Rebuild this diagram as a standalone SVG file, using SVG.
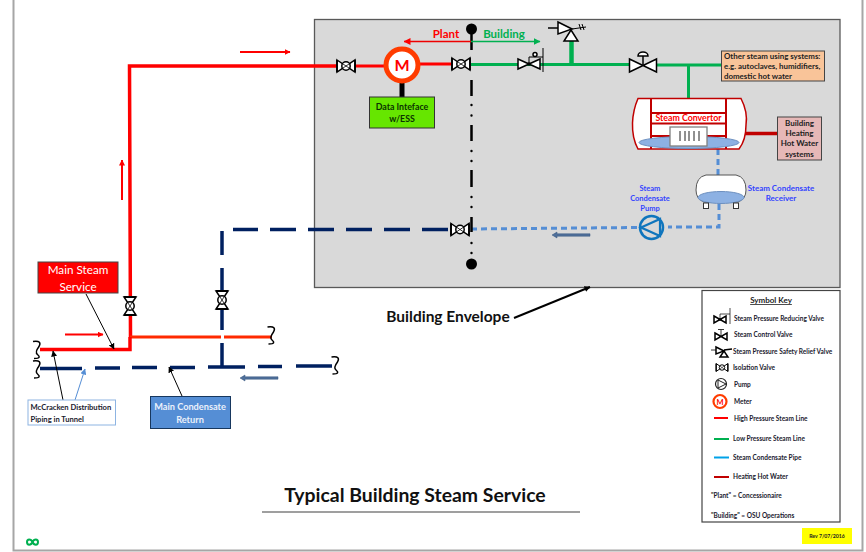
<svg xmlns="http://www.w3.org/2000/svg" xmlns:xlink="http://www.w3.org/1999/xlink" width="866" height="552" viewBox="0 0 866 552">
<style>
text{font-family:"Lato","Open Sans","Liberation Sans",sans-serif;font-weight:700;text-anchor:middle}
.hp{stroke:#f00;stroke-width:3.5;fill:none}
.hp2{stroke:#f00;stroke-width:2.800;fill:none}
.lp{stroke:#00b050;stroke-width:3;fill:none}
.navy{stroke:#002060;stroke-width:3.5;fill:none}
.cond{stroke:#558ed5;stroke-width:3;fill:none;stroke-dasharray:6 4}
.thin{stroke:#000;stroke-width:1;fill:none}
.z{stroke:#000;stroke-width:1.500;fill:none}
.v{stroke:#000;stroke-width:1.500;fill:#fff}
.key{font-size:6.500px;text-anchor:start;fill:#1a1a2e}
.blue{font-size:7.500px;fill:#3344ff}
.st{text-anchor:start}
</style>
<defs>
<marker id="ar" markerWidth="6" markerHeight="6" refX="5.500" refY="3" orient="auto" markerUnits="userSpaceOnUse" viewBox="0 0 6 6"><path d="M0 0L6 3L0 6z" fill="#f00"/></marker>
<marker id="ag" markerWidth="7" markerHeight="7" refX="6.500" refY="3.500" orient="auto" markerUnits="userSpaceOnUse" viewBox="0 0 7 7"><path d="M0 0L7 3.500L0 7z" fill="#00b050"/></marker>
<marker id="ar2" markerWidth="7" markerHeight="7" refX="6.500" refY="3.500" orient="auto" markerUnits="userSpaceOnUse" viewBox="0 0 7 7"><path d="M0 0L7 3.500L0 7z" fill="#f00"/></marker>
<marker id="ak" markerWidth="6" markerHeight="6" refX="5.500" refY="3" orient="auto" markerUnits="userSpaceOnUse" viewBox="0 0 6 6"><path d="M0 0L6 3L0 6z" fill="#000"/></marker>
<marker id="ab" markerWidth="6" markerHeight="6" refX="5.500" refY="3" orient="auto" markerUnits="userSpaceOnUse" viewBox="0 0 6 6"><path d="M0 0L6 3L0 6z" fill="#558ed5"/></marker>
<g id="iso"><path class="v" d="M-9 -6L9 6V-6L-9 6z"/><path d="M-9 -6V6M9 -6V6" stroke="#000" stroke-width="1.800" fill="none"/><circle r="4.200" class="v" stroke-width="1.200"/><path d="M-3 -2L3 2M3 -2L-3 2" stroke="#000" stroke-width=".8"/></g>
<g id="zig"><path class="z" d="M-4 -8.500C3 -9.500 4 -7 2 -3.500C-1 .5 -1.500 3 .5 4.500C3 6.500 3.500 8.500 -3 8.500"/></g>
<g id="tail"><path fill="#4f6f9a" stroke="#37567f" stroke-width=".5" d="M0 -1.200H33V1.200H0V3L-5 0L0 -3z"/></g>
</defs>

<path d="M13.500 0V550.500H862.500V0" fill="none" stroke="#a6a6a6" stroke-width="2"/>

<g id="building-envelope-box"><rect x="314.500" y="19.500" width="525.500" height="268" fill="#d9d9d9" stroke="#595959" stroke-width="1.300"/></g>

<g id="connectors">
<path class="hp" d="M339 66H129.500L130.500 337"/>
<path d="M130 337H272" stroke="#ff2a00" stroke-width="3" fill="none"/>
<path class="hp" d="M40 349.500H130V337"/>
<path class="hp2" d="M352 66H385M419 64H470"/>
<path d="M221 336.500H224" stroke="#fff" stroke-width="5"/>
<path class="lp" d="M471 64.500H636M648 65H721"/>
<path d="M571.500 40V64" stroke="#00b050" stroke-width="4.500"/>
<path class="lp" d="M688.500 65V99"/>
<path class="cond" d="M718 149V175M719 204V227H668"/>
<path class="cond" d="M637 227.500L472 229"/>
<path class="navy" stroke-dasharray="26 12" d="M448 229.500H233"/>
<path class="navy" d="M222 231V255M222 268V330M222 343V367"/>
<path class="navy" d="M40 368.500H82M95 368H120M132 367.500H157M170 367.500H195M208 367H245M258 366.500H282M296 366H332"/>
<path d="M726 133.500H779" stroke="#c00000" stroke-width="3.500"/>
<path stroke="#000" stroke-width="2.500" fill="none" d="M471.500 30V50M471.500 80V96M471.500 125V141M471.500 170V187M471.500 217V232"/>
<path stroke="#000" stroke-width="2.400" stroke-linecap="round" fill="none" d="M471.500 105v.1M471.500 115.500v.1M471.500 151v.1M471.500 161v.1M471.500 197v.1M471.500 207v.1M471.500 243v.1M471.500 253v.1"/>
<path d="M240 52H290" stroke="#f00" stroke-width="2" marker-end="url(#ar)"/>
<path d="M122 200V160" stroke="#f00" stroke-width="2" marker-end="url(#ar)"/>
<path d="M65 334.500H103" stroke="#f00" stroke-width="2" marker-end="url(#ar)"/>
<path d="M471 41.500H404" stroke="#e00" stroke-width="1.500" marker-end="url(#ar2)"/>
<path d="M471 41.500H540" stroke="#00b050" stroke-width="1.500" marker-end="url(#ag)"/>
<use href="#tail" xlink:href="#tail" x="245" y="378"/>
<use href="#tail" xlink:href="#tail" x="557" y="235"/>
<path class="thin" d="M86 294L114 349" marker-end="url(#ak)"/>
<path class="thin" d="M63 400L53 351" marker-end="url(#ak)"/>
<path d="M75 400L85 369" stroke="#558ed5" fill="none" marker-end="url(#ab)"/>
<path class="thin" d="M182 396L169 367" marker-end="url(#ak)"/>
<path d="M514 318L590 287" stroke="#000" stroke-width="2" marker-end="url(#ak)"/>
<path d="M402 83V97" stroke="#000" stroke-width="5"/>
</g>

<g id="breaks">
<use href="#zig" xlink:href="#zig" x="37" y="350"/>
<use href="#zig" xlink:href="#zig" x="37" y="369.500"/>
<use href="#zig" xlink:href="#zig" x="271.500" y="335.500"/>
<use href="#zig" xlink:href="#zig" x="335.500" y="365.500"/>
</g>

<g id="boundary-end-top"><circle cx="471.500" cy="29" r="5.500" fill="#000"/></g>
<g id="boundary-end-bottom"><circle cx="471.500" cy="264" r="5.500" fill="#000"/></g>

<g id="valve-service"><use href="#iso" xlink:href="#iso" transform="translate(130 306) rotate(90)"/></g>
<g id="valve-return"><use href="#iso" xlink:href="#iso" transform="translate(222 300) rotate(90)"/></g>
<g id="valve-iso-top"><use href="#iso" xlink:href="#iso" x="346" y="66"/></g>
<g id="valve-iso-plant"><use href="#iso" xlink:href="#iso" x="461" y="64"/></g>
<g id="valve-iso-cond"><use href="#iso" xlink:href="#iso" x="460" y="229.500"/></g>

<g id="meter"><circle cx="402" cy="65" r="16" fill="#fff" stroke="#ff3c00" stroke-width="5"/><text x="402" y="71" font-size="16" fill="#f00">M</text></g>
<g id="data-interface"><rect x="369.500" y="97" width="65" height="31" fill="#66e600" stroke="#333"/><text x="402" y="110" font-size="8.800" fill="#0a3300">Data Inteface</text><text x="402" y="122" font-size="8.800" fill="#0a3300">w/ESS</text></g>

<g id="prv"><path class="v" d="M518 59L540 69V59L518 69z"/><circle cx="529" cy="64" r="1.800" fill="#000"/><path d="M529 64V57H543" stroke="#000" fill="none"/><circle cx="535" cy="54.500" r="2" class="v" stroke-width="1"/><path d="M543 48V72" stroke="#000"/></g>
<g id="relief"><path d="M548 28H560" stroke="#000" stroke-width="1.500"/><path class="v" d="M558 22L572 29L558 34z"/><path class="v" d="M571 30L564 41H578z"/><path d="M572 29L586 27M579 24L581 30M582 24L584 30" stroke="#000" fill="none"/></g>
<g id="control-valve"><path class="v" d="M629.500 59L656.500 72V59L629.500 72z"/><path d="M643 65V56" stroke="#000" stroke-width="1.500"/><path d="M638 56A5 4 0 0 1 648 56z" fill="#fff" stroke="#000" stroke-width="1.500"/></g>

<g id="other-systems"><rect x="721.500" y="51" width="103" height="30" fill="#f9c499" stroke="#444"/><g font-size="7.900" fill="#222"><text class="st" x="724" y="58.500">Other steam using systems:</text><text class="st" x="724" y="68.500">e.g. autoclaves, humidifiers,</text><text class="st" x="724" y="78.500">domestic hot water</text></g></g>

<g id="steam-convertor">
<path d="M638 98.500H741Q748 112 746 125Q746 140 739 149H638Q632 138 632.500 123Q633 110 638 98.500z" fill="#fff" stroke="#c00000" stroke-width="1.500"/>
<path d="M651 98V149M726 98V149M651 113H726M651 123.500H726M651 136H726" stroke="#c00000" stroke-width="2" fill="none"/>
<ellipse cx="689" cy="142.500" rx="50" ry="6" fill="#8db1e3" stroke="#6d90c0"/>
<rect x="670" y="127" width="37" height="19" fill="#fff" stroke="#808080" stroke-width="1.300"/>
<path d="M680 131V141M685 131V141M689 131V141M694 131V141M699 131V141" stroke="#222"/>
<text x="688.500" y="121" font-size="8.800" fill="#f00">Steam Convertor</text>
</g>

<g id="hot-water-box"><rect x="777.500" y="117" width="44" height="43" fill="#e6b8b7" stroke="#444"/><g font-size="8" fill="#222"><text x="799.500" y="125.500">Building</text><text x="799.500" y="136">Heating</text><text x="799.500" y="146">Hot Water</text><text x="799.500" y="156.500">systems</text></g></g>

<g id="receiver"><path d="M706 175H736Q746 177 746 190Q746 199 738 202H704Q696 199 696 190Q696 177 706 175z" fill="#fff" stroke="#555"/><ellipse cx="721" cy="197.500" rx="23" ry="6" fill="#8db1e3" stroke="#6d90c0"/><rect x="703.500" y="203" width="5" height="5.500" fill="#fff" stroke="#333"/><rect x="733.500" y="203" width="5" height="5.500" fill="#fff" stroke="#333"/></g>
<g id="receiver-label"><text x="781" y="191" class="blue" style="font-size:8px">Steam Condensate</text><text x="781" y="201" class="blue" style="font-size:8px">Receiver</text></g>

<g id="pump"><circle cx="651.500" cy="227.500" r="11.500" fill="#d9d9d9" stroke="#0f75bd" stroke-width="2.500"/><path d="M641 227.500L660 219V236z" fill="none" stroke="#0f75bd" stroke-width="2.200"/></g>
<g id="pump-label"><text x="650" y="191" class="blue">Steam</text><text x="650" y="201" class="blue">Condensate</text><text x="650" y="211" class="blue">Pump</text></g>

<g id="main-steam"><rect x="38" y="262" width="80" height="31" fill="#f00" stroke="#444"/><text x="78" y="274" font-size="11.700" fill="#fff" style="font-weight:400">Main Steam</text><text x="78" y="291" font-size="11.700" fill="#fff" style="font-weight:400">Service</text></g>
<g id="main-condensate"><rect x="150.500" y="396.500" width="80" height="32" fill="#558ed5" stroke="#17375e"/><text x="190" y="410" font-size="9.200" fill="#eaf1fb">Main Condensate</text><text x="190" y="423" font-size="9.200" fill="#eaf1fb">Return</text></g>
<g id="mccracken"><rect x="28" y="400" width="87.500" height="25" fill="#fff" stroke="#8db4e2"/><text class="st" x="30.500" y="410" font-size="7.600" fill="#1a1a2e">McCracken Distribution</text><text class="st" x="30.500" y="421.500" font-size="7.600" fill="#1a1a2e">Piping in Tunnel</text></g>

<g id="envelope-label"><text x="448" y="322" font-size="15.500" fill="#111">Building Envelope</text></g>

<g id="symbol-key">
<rect x="702" y="290.500" width="138" height="231.500" fill="#fff" stroke="#444" stroke-width="1.200"/>
<text x="771" y="303" font-size="8" fill="#222" text-decoration="underline">Symbol Key</text>
<path d="M714 316L726 323V316L714 323z" class="v" stroke-width=".8"/><circle cx="720" cy="319.500" r="1.300" fill="#000"/><path d="M720 319V314H730M730 308V324" stroke="#000" stroke-width=".7" fill="none"/>
<path d="M715 333L727 340V333L715 340z" class="v" stroke-width=".8"/><path d="M721 336V330M718 329.500H724" stroke="#000" stroke-width=".8"/>
<path d="M711 350H717" stroke="#000" stroke-width=".8"/><path d="M716 347L724 351L716 354z" class="v" stroke-width=".8"/><path d="M724 351L720 357H728zM724 350L732 349" class="v" stroke-width=".8"/>
<use href="#iso" xlink:href="#iso" transform="translate(722 367.500) scale(.65)"/>
<circle cx="721" cy="384" r="5.500" fill="#fff" stroke="#222" stroke-width="1.200"/><path d="M718 380L726 384L718 388z" fill="none" stroke="#222"/>
<circle cx="720" cy="401.500" r="6.500" fill="#fff" stroke="#ff3c00" stroke-width="2.200"/><text x="720" y="404.500" font-size="7.500" fill="#f00">M</text>
<path d="M714 418H728" stroke="#f00" stroke-width="2"/>
<path d="M714 439H729" stroke="#00b050" stroke-width="2"/>
<path d="M714 457.500H729" stroke="#00a2e8" stroke-width="2"/>
<path d="M714 477H729" stroke="#c00000" stroke-width="2"/>
<text class="key" x="734" y="320.500">Steam Pressure Reducing Valve</text>
<text class="key" x="734" y="336.500">Steam Control Valve</text>
<text class="key" x="733" y="353.500">Steam Pressure Safety Relief Valve</text>
<text class="key" x="733" y="370">Isolation Valve</text>
<text class="key" x="734" y="387">Pump</text>
<text class="key" x="734" y="403.500">Meter</text>
<text class="key" x="734" y="420.500">High Pressure Steam Line</text>
<text class="key" x="733" y="440.500">Low Pressure Steam Line</text>
<text class="key" x="733" y="459.500">Steam Condensate Pipe</text>
<text class="key" x="733" y="479">Heating Hot Water</text>
<text class="key" x="711" y="498">"Plant" = Concessionaire</text>
<text class="key" x="711" y="518">"Building" = OSU Operations</text>
</g>

<g id="plant-label"><text x="446" y="38" font-size="11.500" fill="#f00">Plant</text></g>
<g id="building-label"><text x="504" y="38" font-size="11.500" fill="#00b050">Building</text></g>

<g id="title"><text x="415" y="502" font-size="19.400" fill="#111">Typical Building Steam Service</text><path d="M262 512H580" stroke="#7f7f7f" stroke-width="1.300"/></g>
<g id="rev"><rect x="802" y="528" width="50" height="16" fill="#ffff00"/><text x="827" y="537.500" font-size="5.200" fill="#222">Rev 7/07/2016</text></g>
<g id="logo"><path d="M27 542c0-3.500 4-3.500 5.500 0s5.500 3.500 5.500 0s-4-3.500-5.500 0s-5.500 3.500-5.500 0z" fill="none" stroke="#00b050" stroke-width="2"/></g>
</svg>
